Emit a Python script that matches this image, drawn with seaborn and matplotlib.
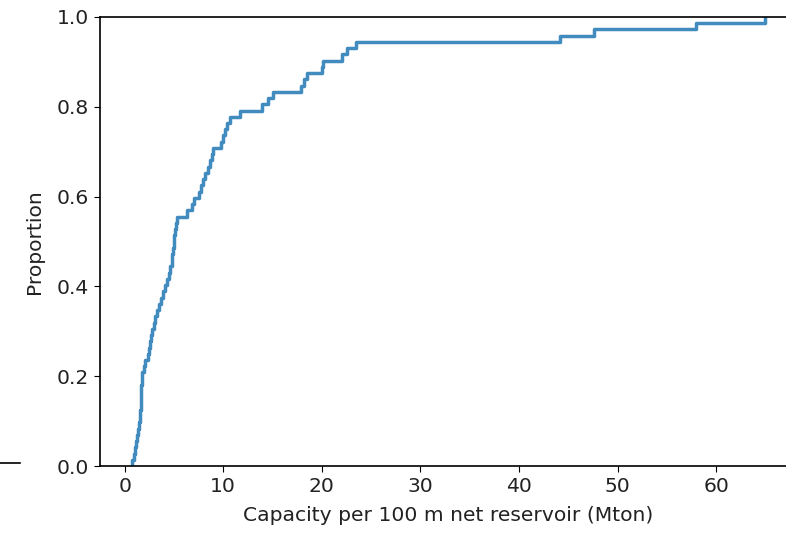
import numpy as np
import pandas as pd
import seaborn as sns
import matplotlib.pyplot as plt
from matplotlib.lines import Line2D

# capacity per 100 m net reservoir (Mton), one value per field
capacity = [
    0.7, 0.9, 1.0, 1.2, 1.3,
    1.4, 1.5, 1.6, 1.6, 1.65,
    1.65, 1.7, 1.7, 1.75, 1.8,
    2.0, 2.1,
    2.4, 2.5, 2.6,
    2.7, 2.8,
    3.0, 3.1, 3.3,
    3.5, 3.7,
    3.9, 4.1, 4.3,
    4.5, 4.6,
    4.8, 4.85, 4.9,
    5.0, 5.05,
    5.1, 5.2, 5.3,
    6.3, 6.8, 7.0, 7.5, 7.7, 7.9, 8.1, 8.5, 8.7,
    8.9, 9.0,
    9.8, 10.0, 10.2, 10.4, 10.7,
    11.7, 13.9, 14.5, 15.0,
    17.9, 18.2, 18.5,
    20.0, 20.1,
    22.0, 22.6, 23.5,
    44.2, 47.6, 58.0, 65.0,
]

x_ticks = [0, 10, 20, 30, 40, 50, 60]
y_ticks = [0.0, 0.2, 0.4, 0.6, 0.8, 1.0]

plt.rcParams['font.family'] = ['DejaVu Sans']
plt.rcParams['font.size'] = 14.6
plt.rcParams['text.color'] = '#222222'
plt.rcParams['axes.labelcolor'] = '#222222'
plt.rcParams['xtick.labelcolor'] = '#222222'
plt.rcParams['ytick.labelcolor'] = '#222222'
plt.rcParams['xtick.major.size'] = 4.5
plt.rcParams['ytick.major.size'] = 4.5

df = pd.DataFrame({"Capacity per 100 m net reservoir (Mton)": capacity})

fig = plt.figure(figsize=(7.86, 5.33), dpi=100)
ax = fig.add_axes([100 / 786, 67 / 533, 697 / 786, 449 / 533])

sns.ecdfplot(data=df, x="Capacity per 100 m net reservoir (Mton)", ax=ax,
             color="#1f77b4", linewidth=2.5, alpha=0.85)

ax.set_xlim(-2.5, 68.2)
ax.set_ylim(0, 1.0)
ax.set_xticks(x_ticks)
ax.set_yticks(y_ticks)
ax.set_xlabel("Capacity per 100 m net reservoir (Mton)", labelpad=7)
ax.set_ylabel("Proportion", labelpad=9)
for s in ax.spines.values():
    s.set_linewidth(1.2)

# leftover spine piece from the neighbouring panel in the original screenshot
fig.add_artist(Line2D([0, 20 / 786], [70 / 533, 70 / 533], color="black", linewidth=1.2))

fig.savefig("out.png", dpi=100)
